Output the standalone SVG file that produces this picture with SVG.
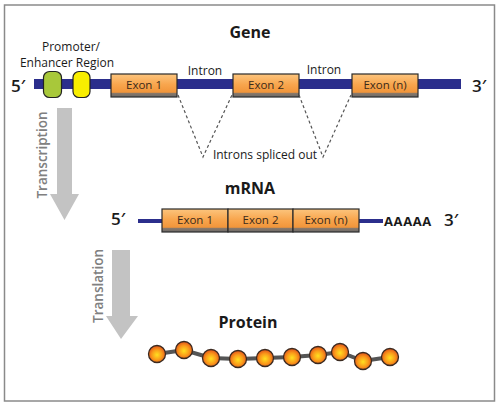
<svg xmlns="http://www.w3.org/2000/svg" width="500" height="406" viewBox="0 0 500 406">
<defs>
<style>
text{font-family:"Open Sans","Liberation Sans",sans-serif;fill:#1a1a1a}
.title{font-weight:bold;font-size:16px;text-anchor:middle}
.prime{font-size:17px;font-weight:600}
.lbl{font-size:12px;text-anchor:middle}
.ex{font-size:11.5px;text-anchor:middle;fill:#3a2a1a}
.exon{fill:url(#exg);stroke:#2a2a2a;stroke-width:1.2}
.arrow{fill:#c3c3c3}
.side{font-size:13.5px;fill:#808080;text-anchor:middle;font-weight:600}
.bead{fill:url(#bg);stroke:#3a2a20;stroke-width:1.3}
.dash{fill:none;stroke:#555;stroke-width:1.2;stroke-dasharray:3 2.5}
</style>
<linearGradient id="exg" x1="0" y1="0" x2="0" y2="1">
<stop offset="0" stop-color="#fcc57e"/>
<stop offset="0.45" stop-color="#f8a64e"/>
<stop offset="0.8" stop-color="#f1953a"/>
<stop offset="0.82" stop-color="#8e7a68"/>
<stop offset="1" stop-color="#6a6a6a"/>
</linearGradient>
<radialGradient id="bg" cx="0.5" cy="0.55" r="0.55">
<stop offset="0" stop-color="#ffe020"/>
<stop offset="0.55" stop-color="#fa9a1a"/>
<stop offset="1" stop-color="#e0501a"/>
</radialGradient>
</defs>
<rect x="0" y="0" width="500" height="406" fill="#fff"/>
<rect x="4.5" y="5" width="490" height="396" fill="#fff" stroke="#8a8a8a" stroke-width="1.5"/>

<g id="gene">
<text class="title" x="250" y="38">Gene</text>
<text class="prime" x="11" y="92">5′</text>
<text class="prime" x="472" y="92">3′</text>
<rect x="34" y="79" width="427" height="10" fill="#2b2e8c"/>
<g id="promoter">
<text class="lbl" x="71" y="51">Promoter/</text>
<text class="lbl" x="67" y="67">Enhancer Region</text>
<rect x="43.5" y="71.5" width="18" height="26" rx="6" ry="6" fill="#a8c83a" stroke="#222" stroke-width="1.2"/>
<rect x="73" y="71.5" width="17" height="26" rx="6" ry="6" fill="#f8ee00" stroke="#222" stroke-width="1.2"/>
</g>
<g id="gene-exon1"><rect class="exon" x="111" y="74" width="66" height="23"/><text class="ex" x="144" y="89">Exon 1</text></g>
<g id="gene-exon2"><rect class="exon" x="233" y="74" width="66" height="23"/><text class="ex" x="266" y="89">Exon 2</text></g>
<g id="gene-exonn"><rect class="exon" x="352" y="74" width="66" height="23"/><text class="ex" x="385" y="89">Exon (n)</text></g>
<text class="lbl" x="205" y="75">Intron</text>
<text class="lbl" x="324" y="74">Intron</text>
</g>

<g id="connectors">
<polyline class="dash" points="178,95 203,157 232,95"/>
<polyline class="dash" points="299,95 323,157 351,95"/>
<polygon class="arrow" points="57,108 72,108 72,194 79,194 64.5,220 50,194 57,194"/>
<polygon class="arrow" points="112,250 130,250 130,316 138,316 121,339 106,316 112,316"/>
</g>

<text class="lbl" x="265" y="159">Introns spliced out</text>
<text class="side" transform="translate(47,155) rotate(-90)">Transcription</text>
<text class="side" transform="translate(103,286) rotate(-90)">Translation</text>

<g id="mrna">
<text class="title" x="250" y="194">mRNA</text>
<text class="prime" x="111" y="225">5′</text>
<rect x="138" y="219" width="24" height="4" fill="#2b2e8c"/>
<rect x="359" y="219" width="24" height="4" fill="#2b2e8c"/>
<g id="mrna-exon1"><rect class="exon" x="162" y="209" width="66" height="23"/><text class="ex" x="195" y="224">Exon 1</text></g>
<g id="mrna-exon2"><rect class="exon" x="228" y="209" width="65" height="23"/><text class="ex" x="260.5" y="224">Exon 2</text></g>
<g id="mrna-exonn"><rect class="exon" x="293" y="209" width="66" height="23"/><text class="ex" x="326" y="224">Exon (n)</text></g>
<text x="384" y="226" style="font-weight:bold;font-size:13px;letter-spacing:0.6px">AAAAA</text>
<text class="prime" x="444" y="226">3′</text>
</g>

<g id="protein">
<text class="title" x="248" y="328">Protein</text>
<polyline points="157,354 184,350 211,358 238,359 265,358 292,357 318,355 340,352 363,361 390,357" fill="none" stroke="#555" stroke-width="4"/>
<circle class="bead" cx="157" cy="354" r="8.5"/>
<circle class="bead" cx="184" cy="350" r="8.5"/>
<circle class="bead" cx="211" cy="358" r="8.5"/>
<circle class="bead" cx="238" cy="359" r="8.5"/>
<circle class="bead" cx="265" cy="358" r="8.5"/>
<circle class="bead" cx="292" cy="357" r="8.5"/>
<circle class="bead" cx="318" cy="355" r="8.5"/>
<circle class="bead" cx="340" cy="352" r="8.5"/>
<circle class="bead" cx="363" cy="361" r="8.5"/>
<circle class="bead" cx="390" cy="357" r="8.5"/>
</g>
</svg>
